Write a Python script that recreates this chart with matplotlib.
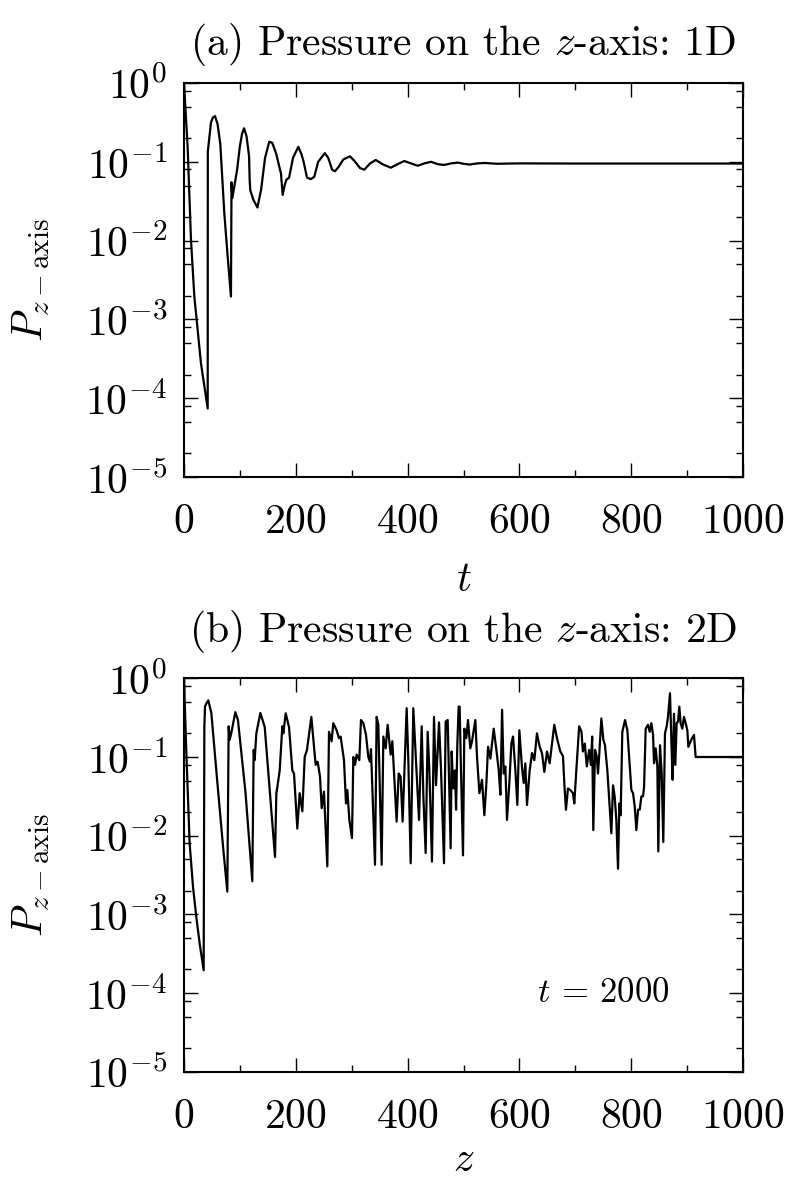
import numpy as np
from matplotlib import pyplot as plt
from matplotlib.ticker import LogLocator, MultipleLocator

plt.rcParams['font.family'] = ['cmr10', 'DejaVu Serif']
plt.rcParams['mathtext.fontset'] = 'cm'
plt.rcParams['axes.formatter.use_mathtext'] = True
plt.rcParams['axes.unicode_minus'] = False

# (a) 1D: t and log10 of pressure on the z-axis
t_1d = [0, 6.5, 12.5, 18.5, 30.4, 42.4, 42.6, 48.3, 51.5, 55.5, 60, 64.9, 72.1, 78.1,
        84, 85, 86.5, 95, 100, 104, 107.5, 112, 116.4, 117.5, 118.5, 124, 131.4, 138,
        145, 152.5, 158, 165, 173.5, 176.5, 180, 183, 188, 195, 204.5, 210, 214, 220,
        227, 233, 240, 252, 258, 265, 270, 276, 285, 296.9, 305, 315, 322.6, 333, 343,
        355, 370, 382, 394, 406, 418, 430, 442, 454, 465, 478, 490, 500, 511, 525, 538,
        560, 600, 700, 1000]
logp_1d = [0.0, -0.81, -1.99, -2.71, -3.56, -4.13, -0.87, -0.50, -0.44, -0.42, -0.52,
           -0.77, -1.65, -2.20, -2.71, -1.26, -1.46, -1.10, -0.80, -0.64, -0.575, -0.68,
           -0.93, -1.23, -1.36, -1.48, -1.58, -1.35, -0.95, -0.745, -0.76, -0.90, -1.15,
           -1.42, -1.30, -1.23, -1.20, -0.95, -0.81, -0.90, -1.00, -1.20, -1.22, -1.19,
           -1.00, -0.89, -0.95, -1.10, -1.12, -1.07, -0.97, -0.93, -0.99, -1.08, -1.10,
           -1.02, -0.977, -1.03, -1.075, -1.03, -0.99, -1.02, -1.05, -1.02, -1.00, -1.03,
           -1.04, -1.02, -1.01, -1.025, -1.035, -1.02, -1.015, -1.025, -1.02, -1.022,
           -1.022]

# (b) 2D at t = 2000: z and log10 of pressure on the z-axis
z_2d = [0, 4.2, 10.1, 16.1, 22, 28, 35.2, 36.4, 37.6, 40, 43.5, 48.9, 60, 70, 77.5,
        79.9, 81.7, 84.5, 91.8, 96.5, 110, 122.2, 124.6, 126.4, 129.4, 136.6, 144.4,
        162.8, 165.2, 167, 171.2, 175.9, 177.7, 181.9, 187.9, 193.8, 196.8, 202.7,
        206.9, 211.7, 215.9, 220, 227.8, 235.5, 239.1, 243.3, 246.3, 250.4, 256.4,
        259.4, 264, 267.1, 273, 277.2, 280.2, 286.2, 289.8, 292.2, 295.8, 300.5, 302.9,
        305.9, 308.9, 313.6, 316.6, 320.8, 325.6, 329.7, 332.7, 334.5, 341.7, 344.6,
        347.6, 353.6, 356.6, 360.8, 364.3, 369.7, 372.7, 380.4, 384, 387.5, 391.1,
        394.7, 398.3, 401.3, 405.5, 410.2, 415, 420.4, 425.2, 428.2, 432.3, 435.9,
        438.9, 443.6, 447.2, 450.8, 456.2, 459.8, 465.1, 468.1, 471.7, 477, 478.8,
        481.7, 484.7, 486.7, 488.9, 491.3, 493.1, 495.5, 499.1, 501.5, 505.1, 508,
        512.2, 515.2, 521.2, 524.2, 528.4, 533.1, 537.3, 540.9, 543.9, 548.1, 554,
        558.8, 563, 566, 569, 571.9, 574.9, 577.8, 582, 585.6, 588.6, 592.8, 596.3,
        599.9, 604.7, 607.7, 610.6, 613.6, 618.4, 622.6, 626.7, 631.4, 636.2, 640.4,
        644.6, 649.4, 654.1, 658.3, 662.4, 667.2, 673.2, 678, 680.3, 683.3, 686.9,
        691.1, 695.8, 698.2, 701.8, 706.9, 711.1, 713.5, 717, 720.6, 724.8, 727.8,
        730.2, 732.2, 735.3, 738.2, 740.6, 743, 746.6, 750.2, 753.1, 757.3, 761.5,
        764.5, 767.5, 770.4, 773.4, 776.4, 778.8, 781.1, 784.1, 789, 793.1, 797.9,
        800.3, 803.3, 806.3, 809.2, 812.2, 815.2, 818.2, 821.2, 823, 825.9, 830.1,
        833.1, 836.1, 839.1, 840.8, 843.8, 846.8, 848.5, 851.5, 854.5, 857.4, 860.4,
        863.4, 865.8, 869.4, 871.8, 874.1, 876.5, 878.9, 881.3, 883.7, 886.1, 888.4,
        891.4, 894.4, 897.4, 900.4, 902.2, 907.5, 912.3, 915.3, 1000]
logp_2d = [0.0, -0.95, -2.10, -2.65, -3.03, -3.37, -3.71, -0.61, -0.36, -0.32, -0.28,
           -0.44, -1.35, -2.15, -2.71, -0.61, -0.78, -0.70, -0.43, -0.53, -1.45, -2.58,
           -0.91, -1.04, -0.70, -0.44, -0.62, -2.27, -1.46, -1.38, -1.17, -0.61, -0.70,
           -0.445, -0.62, -1.17, -1.21, -1.91, -1.46, -1.69, -1.00, -0.91, -0.49, -1.10,
           -1.06, -1.25, -1.65, -1.44, -2.39, -0.68, -0.80, -0.57, -0.66, -0.76, -0.74,
           -1.04, -1.59, -1.42, -1.80, -2.03, -1.00, -1.10, -0.97, -1.04, -0.53, -0.57,
           -0.72, -1.00, -1.06, -0.90, -2.37, -0.49, -0.59, -2.37, -0.74, -0.89, -0.59,
           -0.97, -0.80, -1.82, -1.21, -1.25, -1.82, -1.08, -0.38, -1.04, -2.35, -0.38,
           -1.04, -1.80, -0.61, -1.50, -2.22, -0.68, -1.17, -2.33, -0.49, -1.36, -0.56,
           -1.17, -2.35, -0.55, -0.53, -2.16, -0.93, -1.40, -1.17, -1.67, -0.85, -0.36,
           -0.36, -1.17, -2.25, -0.64, -0.76, -0.53, -0.89, -0.80, -0.53, -1.00, -1.46,
           -1.29, -1.74, -1.34, -0.87, -1.02, -0.64, -0.91, -1.17, -1.48, -0.40, -1.21,
           -1.12, -1.80, -1.33, -0.83, -0.74, -1.17, -1.61, -0.66, -1.14, -1.33, -1.08,
           -1.61, -1.17, -0.95, -1.04, -0.70, -0.87, -0.95, -1.19, -0.93, -1.08, -0.83,
           -0.59, -0.76, -0.93, -0.99, -1.33, -1.67, -1.40, -1.42, -1.46, -1.59, -1.17,
           -0.61, -0.68, -0.93, -0.83, -1.12, -0.91, -1.10, -0.74, -1.93, -0.91, -0.99,
           -1.21, -0.95, -0.51, -0.78, -0.85, -1.17, -1.63, -1.97, -1.36, -1.50, -1.80,
           -2.42, -1.59, -1.74, -0.68, -0.53, -0.66, -1.17, -1.42, -1.46, -1.63, -1.93,
           -1.67, -1.67, -1.50, -1.50, -1.38, -0.64, -0.59, -0.68, -0.57, -0.72, -1.08,
           -0.89, -1.12, -2.20, -0.85, -1.21, -2.08, -0.70, -0.61, -0.49, -0.19, -0.78,
           -1.29, -0.45, -1.10, -0.57, -0.55, -0.36, -0.57, -0.64, -0.49, -0.57, -0.66,
           -0.87, -0.78, -0.72, -1.00, -1.00]

x_ticks = [0, 200, 400, 600, 800, 1000]

fig = plt.figure(figsize=(7.88, 11.84), dpi=100)
ax1 = fig.add_axes([0.2335, 0.5971, 0.7094, 0.3328])
ax2 = fig.add_axes([0.2335, 0.0948, 0.7094, 0.3323])

ax1.plot(t_1d, 10.0 ** np.array(logp_1d), color='black', lw=1.6)
ax2.plot(z_2d, 10.0 ** np.array(logp_2d), color='black', lw=1.6)

for ax in (ax1, ax2):
    ax.set_yscale('log')
    ax.set_xlim(0, 1000)
    ax.set_ylim(1e-5, 1)
    ax.set_xticks(x_ticks)
    ax.xaxis.set_minor_locator(MultipleLocator(100))
    ax.yaxis.set_major_locator(LogLocator(base=10, numticks=10))
    ax.yaxis.set_minor_locator(LogLocator(base=10, subs=[2, 5, 8], numticks=10))
    ax.tick_params(which='both', direction='in', top=True, right=True,
                   labelsize=30, width=1.0)
    ax.tick_params(axis='x', which='both', pad=19)
    ax.tick_params(axis='y', which='both', pad=12)
    ax.tick_params(which='major', length=10)
    ax.tick_params(which='minor', length=5)
    for s in ax.spines.values():
        s.set_linewidth(1.5)
    ax.set_ylabel(r'$P_{z-\mathrm{axis}}$', fontsize=30, labelpad=24)

ax1.set_title(r'(a) Pressure on the $z$-axis: 1D', fontsize=30, pad=20)
ax1.set_xlabel(r'$t$', fontsize=30, labelpad=15)
ax2.set_title(r'(b) Pressure on the $z$-axis: 2D', fontsize=30, pad=26)
ax2.set_xlabel(r'$z$', fontsize=30, labelpad=4)
ax2.text(751, 1e-4, r'$t$ = 2000', fontsize=25, ha='center', va='center')

plt.savefig('out.png', dpi=100)
